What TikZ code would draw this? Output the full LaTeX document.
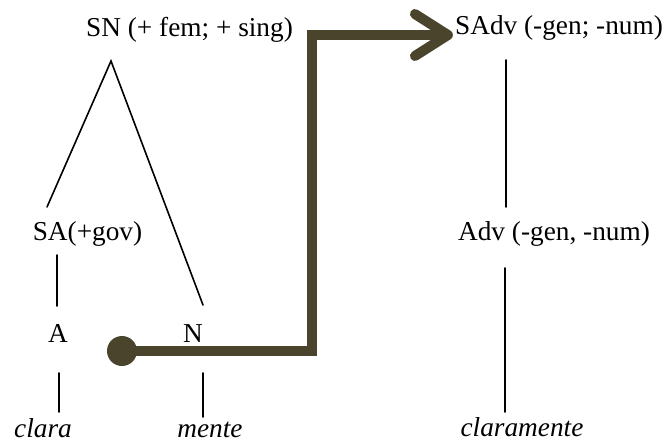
\documentclass[tikz,border=0pt]{standalone}
\usepackage{fontspec}
\setmainfont{Liberation Serif}
\usetikzlibrary{arrows.meta}
\definecolor{routecol}{RGB}{74,68,45}

\begin{document}
\begin{tikzpicture}[
    x=1pt, y=-1pt,
    line cap=round,
    font=\fontsize{27.3}{32}\selectfont,
    label/.style={anchor=base, inner sep=0pt},
    word/.style={label, font=\fontsize{27.3}{32}\selectfont\itshape},
    branch/.style={line width=1.6pt},
    route/.style={routecol, line width=10pt, line cap=butt,
      -{Straight Barb[length=33pt, width=42pt, round]}},
  ]
  \useasboundingbox (0,0) rectangle (671,444);

  % left tree
  \node[label] (sn) at (189.5, 37) {SN (+ fem; + sing)};
  \node[label] (sa) at (87.5, 240) {SA(+gov)};
  \node[label] (a) at (58, 342) {A};
  \node[label] (n) at (193, 342) {N};
  \node[word] (clara) at (43, 437) {clara};
  \node[word] (mente) at (210, 437) {mente};

  % right tree
  \node[label] (sadv) at (559, 35) {SAdv (-gen; -num)};
  \node[label] (adv) at (554, 240) {Adv (-gen, -num)};
  \node[word] (claramente) at (522, 436) {claramente};

  \coordinate (apex) at (111, 61);
  \coordinate (sa-up) at (47, 207);
  \coordinate (n-up) at (203, 305);
  \coordinate (sa-lo) at (57, 255);
  \coordinate (a-up) at (57, 306);
  \coordinate (a-lo) at (59, 373);
  \coordinate (clara-up) at (59, 412);
  \coordinate (n-lo) at (203, 373);
  \coordinate (mente-up) at (203, 417);
  \coordinate (sadv-lo) at (506, 60);
  \coordinate (adv-up) at (506, 207);
  \coordinate (adv-lo) at (505, 268);
  \coordinate (claramente-up) at (505, 412);

  \draw[branch] (sa-up) -- (apex) -- (n-up);
  \draw[branch] (sa-lo) -- (a-up);
  \draw[branch] (a-lo) -- (clara-up);
  \draw[branch] (n-lo) -- (mente-up);
  \draw[branch] (sadv-lo) -- (adv-up);
  \draw[branch] (adv-lo) -- (claramente-up);

  % derivation arrow
  \node[circle, fill=routecol, minimum size=30pt, inner sep=0pt] (dot) at (122, 351) {};
  \coordinate (bend) at (312, 35);
  \draw[route] (dot.center) -| (bend) -- ([xshift=-2pt]sadv.base west);
\end{tikzpicture}
\end{document}
